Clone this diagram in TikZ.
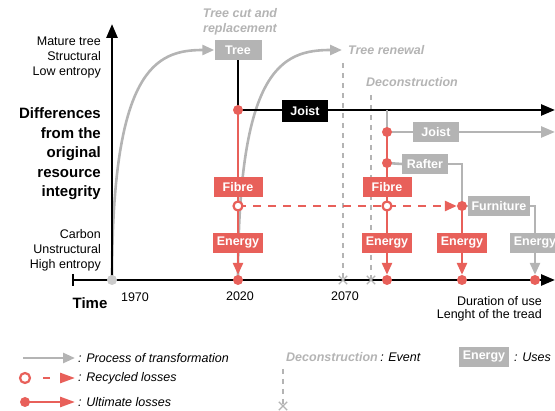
\documentclass[tikz,border=0pt]{standalone}
\usepackage{fontspec}
\setmainfont{Liberation Sans}
\usetikzlibrary{arrows.meta,shapes.misc,backgrounds}
\definecolor{lred}{HTML}{E8605A}
\definecolor{lgray}{HTML}{B4B4B4}
\begin{document}
\begin{tikzpicture}[x=1pt,y=-1pt,
  box/.style={font=\fontsize{12.5}{14}\bfseries\selectfont, text=white, inner xsep=3.5pt, inner ysep=0pt, minimum height=20pt, minimum width=46pt},
  graybox/.style={box, fill=lgray},
  redbox/.style={box, fill=lred, minimum width=49pt},
  blackbox/.style={box, fill=black, minimum height=22pt},
  rdot/.style={circle, fill=lred, inner sep=0pt, minimum size=10pt},
  odot/.style={circle, draw=lred, fill=white, line width=2.2pt, inner sep=0pt, minimum size=9pt},
  gdot/.style={circle, fill=lgray!70, inner sep=0pt, minimum size=10pt},
  tip/.style={-{Triangle[length=12pt,width=10pt]}},
  bigtip/.style={-{Triangle[length=14pt,width=11pt]}},
  bl/.style={line width=2.6pt, black},
  gl/.style={line width=2.6pt, lgray},
  rl/.style={line width=2.6pt, lred},
  rdash/.style={rl, dash pattern=on 8pt off 7pt},
  ev/.style={lgray, line width=1.2pt, dash pattern=on 5pt off 5pt},
  xm/.style={cross out, draw=lgray, line width=1.3pt, minimum size=7pt, inner sep=0pt},
  gtxt/.style={font=\fontsize{12.5}{15}\bfseries\itshape\selectfont, text=lgray, inner sep=1pt},
  ntxt/.style={font=\fontsize{12.5}{15}\selectfont, inner sep=0pt},
  ltxt/.style={font=\fontsize{12.5}{15}\itshape\selectfont, inner sep=1pt},
  btxt/.style={font=\fontsize{15}{19.5}\bfseries\selectfont, inner sep=0pt}
]
\useasboundingbox (0,0) rectangle (555,411);

% ---- nodes ----
\node[graybox, minimum width=47pt] (tree) at (238,50) {Tree};
\node[blackbox] (joist1) at (305,111) {Joist};
\node[graybox] (joist2) at (436,132) {Joist};
\node[graybox] (rafter) at (425,164) {Rafter};
\node[graybox] (furn) at (499,206) {Furniture};
\node[redbox] (fibre1) at (238,187) {Fibre};
\node[redbox] (fibre2) at (387,187) {Fibre};
\node[redbox] (en1) at (238,243) {Energy};
\node[redbox] (en2) at (387,243) {Energy};
\node[redbox] (en3) at (462,243) {Energy};
\node[graybox, minimum width=49pt] (en4) at (535,243) {Energy};

\node[rdot] (d1) at (238,110) {};
\node[rdot] (d2) at (387,132) {};
\node[rdot] (d3) at (387,163) {};
\node[rdot] (d4) at (462,206) {};
\node[odot] (o1) at (238,206) {};
\node[odot] (o2) at (387,206) {};
\node[gdot] (g0) at (112,280) {};
\node[rdot] (a1) at (238,280) {};
\node[rdot] (a2) at (387,280) {};
\node[rdot] (a3) at (462,280) {};
\node[rdot] (a4) at (535,280) {};

\node[xm] (renewx) at (343,280) {};
\node[xm] (deconx) at (371,280) {};

% coordinates
\coordinate (renewtop) at (343,63);
\coordinate (decontop) at (371,95);
\coordinate (renew) at (342,50);
\coordinate (jend) at (555,110);
\coordinate (jsplit) at (387,110);
\coordinate (j2end) at (555,132);
\coordinate (ax0) at (73,280);
\coordinate (ax1) at (555,280);
\coordinate (ay1) at (112,24);
\coordinate (tickt) at (73,274);
\coordinate (tickb) at (73,286);

\begin{pgfonlayer}{background}
  \draw[ev] (renewtop) -- (renewx.center);
  \draw[ev] (decontop) -- (deconx.center);
  \draw[gl, tip] (g0.center) .. controls (112,70) and (155,50) .. (tree.west);
  \draw[gl, tip] (a1.center) .. controls (238,70) and (281,50) .. (renew);
  % axes
  \draw[bl, bigtip] (ax0) -- (ax1);
  \draw[line width=2.6pt] (tickt) -- (tickb);
  \draw[bl, bigtip] (g0.center) -- (ay1);
  % black joist
  \draw[bl] (tree.south) -- (d1.center);
  \draw[bl, bigtip] (d1.center) -- (jend);
  % gray joist
  \draw[gl] (jsplit) -- (d2.center);
  \draw[gl, bigtip] (d2.center) -- (j2end);
  % red losses
  \draw[rl] (d1.center) -- (en1.north);
  \draw[rl, tip] (en1.south) -- (a1.north);
  \draw[rl] (d2.center) -- (en2.north);
  \draw[rl, tip] (en2.south) -- (a2.north);
  \draw[rl] (d4.center) -- (en3.north);
  \draw[rl, tip] (en3.south) -- (a3.north);
  \draw[rdash, tip] (o1.center) -- (d4.west);
  % gray processes
  \draw[gl] (d3.center) -- (rafter.west);
  \draw[gl] (rafter.east) -| (d4.center);
  \draw[gl] (d4.center) -- (furn.west);
  \draw[gl] (furn.east) -| (en4.north);
  \draw[gl, tip] (en4.south) -- (a4.north);
\end{pgfonlayer}

% ---- labels ----
\node[gtxt, align=center] (cutlbl) at (240,22) {Tree cut and\\replacement};
\node[gtxt, anchor=west] (renewlbl) at (347,50) {Tree renewal};
\node[gtxt, anchor=west] (deconlbl) at (365,82) {Deconstruction};

\node[ntxt, anchor=east, align=right] (ytop) at (101,58) {Mature tree\\Structural\\Low entropy};
\node[btxt, anchor=east, align=right] (ymid) at (101,154) {Differences\\from the\\original\\resource\\integrity};
\node[ntxt, anchor=east, align=right] (ybot) at (101,250) {Carbon\\Unstructural\\High entropy};

\node[btxt] (timelbl) at (90,303) {Time};
\node[ntxt] (y1970) at (135,297) {1970};
\node[ntxt] (y2020) at (240,296) {2020};
\node[ntxt] (y2070) at (345,296) {2070};
\node[ntxt, anchor=east, align=right, font=\fontsize{12.5}{13.5}\selectfont] (dur) at (542,309) {Duration of use\\Lenght of the tread};

% ---- legend ----
\coordinate (lg1a) at (23,358);
\coordinate (lg1b) at (75,358);
\draw[gl, tip] (lg1a) -- (lg1b);
\node[ltxt, anchor=west] (lgt1) at (77,358) {: Process of transformation};

\node[odot, minimum size=10pt] (lo) at (25,378) {};
\coordinate (lrend) at (75,378);
\draw[rl, dash pattern=on 0pt off 12pt on 7pt off 40pt, -{Triangle[length=15pt,width=10pt]}] (lo.east) -- (lrend);
\node[ltxt, anchor=west] (lgt2) at (77,378) {: Recycled losses};

\node[rdot] (lu) at (25,402) {};
\coordinate (luend) at (75,402);
\draw[rl, -{Triangle[length=15pt,width=10pt]}] (lu.center) -- (luend);
\node[ltxt, anchor=west] (lgt3) at (77,402) {: Ultimate losses};

\node[gtxt, anchor=west] (evlbl) at (285,357) {Deconstruction};
\node[ltxt, anchor=west] (evt) at (evlbl.east) {: Event};
\coordinate (evtop) at (283,369);
\node[xm] (evx) at (283,406) {};
\draw[ev] (evtop) -- (evx.center);

\node[graybox, minimum width=50pt] (lgen) at (484,357) {Energy};
\node[ltxt, anchor=west] (lgt4) at (513,357) {: Uses};
\end{tikzpicture}
\end{document}
